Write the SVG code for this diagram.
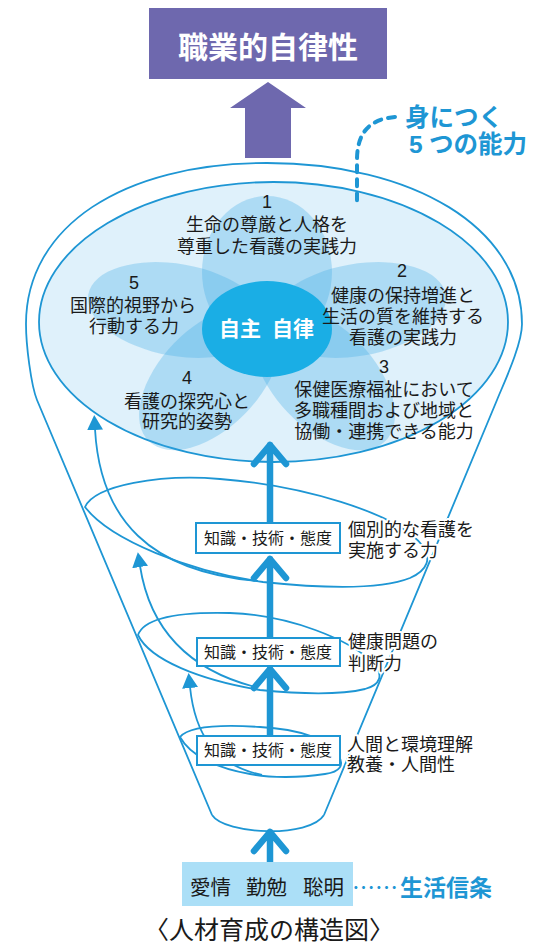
<svg xmlns="http://www.w3.org/2000/svg" width="537" height="945" viewBox="0 0 537 945">
<defs>
<style>
.ln{fill:none;stroke:#1e96d4;stroke-width:1.8}
.thk{fill:none;stroke:#1e96d4;stroke-width:6.5;stroke-linecap:round;stroke-linejoin:round}
.jp{font-family:"Liberation Sans","Noto Sans CJK JP",sans-serif;fill:#1a1a1a}
.s18{font-size:18px}
.mid{text-anchor:middle}
.halo{paint-order:stroke;stroke:#fff;stroke-width:4;stroke-linejoin:round}
.petal{fill:#3ca8e6;fill-opacity:0.3}
.box{fill:#fff;stroke:#1e96d4;stroke-width:2}
</style>
<marker id="ah" markerUnits="userSpaceOnUse" markerWidth="15" markerHeight="16" viewBox="0 0 15 16" refX="1" refY="8" orient="auto"><path d="M0,0 L15,8 L0,16 Z" fill="#1e96d4"/></marker>
</defs>
<rect width="537" height="945" fill="#fff"/>

<g id="title">
<rect x="149" y="8" width="238" height="71" fill="#6e68ae"/>
<text x="268" y="58" class="jp mid" font-size="30" font-weight="bold" style="fill:#fff">職業的自律性</text>
</g>
<g id="purple-arrow">
<polygon points="268,82 306,108 291,108 291,158 245,158 245,108 230,108" fill="#6e68ae"/>
</g>

<g id="funnel">
<path class="ln" d="M212,815 L37,400 C31,385 26,345 26,324 C26,227 122,163 267,163 C412,163 522,227 522,324 C522,345 503,385 497,400 L324,815"/>
<path class="ln" d="M212,815 C225,835 310,838 324,815"/>
</g>

<g id="abilities">
<ellipse cx="273.5" cy="322" rx="234.5" ry="140" fill="#dff1fb" stroke="#1e96d4" stroke-width="1.8"/>
<ellipse class="petal" cx="267" cy="272" rx="65" ry="76"/>
<ellipse class="petal" cx="357" cy="310" rx="90" ry="46" transform="rotate(-10 357 310)"/>
<ellipse class="petal" cx="177" cy="310" rx="90" ry="46" transform="rotate(10 177 310)"/>
<ellipse class="petal" cx="210" cy="378" rx="88" ry="50" transform="rotate(-46 210 378)"/>
<ellipse class="petal" cx="324" cy="378" rx="88" ry="50" transform="rotate(46 324 378)"/>
<ellipse cx="267" cy="329" rx="65" ry="48" fill="#1aaee5"/>
<text class="jp" font-size="21" font-weight="bold" style="fill:#fff"><tspan x="219" y="336">自主</tspan> <tspan x="272" y="336">自律</tspan></text>
</g>

<g id="ability1" class="jp s18 mid">
<text x="267" y="208">1</text>
<text x="267" y="231">生命の尊厳と人格を</text>
<text x="267" y="253">尊重した看護の実践力</text>
</g>
<g id="ability2" class="jp s18 mid">
<text x="402" y="277">2</text>
<text x="403" y="302">健康の保持増進と</text>
<text x="403" y="323">生活の質を維持する</text>
<text x="403" y="344">看護の実践力</text>
</g>
<g id="ability3" class="jp s18 mid">
<text x="384" y="373">3</text>
<text x="384" y="396">保健医療福祉において</text>
<text x="384" y="417">多職種間および地域と</text>
<text x="384" y="438">協働・連携できる能力</text>
</g>
<g id="ability4" class="jp s18 mid">
<text x="187" y="384">4</text>
<text x="187" y="408">看護の探究心と</text>
<text x="187" y="428">研究的姿勢</text>
</g>
<g id="ability5" class="jp s18 mid">
<text x="134" y="289">5</text>
<text x="133" y="312">国際的視野から</text>
<text x="134" y="333">行動する力</text>
</g>

<g id="callout">
<path d="M395,117 C372,119 357,130 357,160 L357,204" fill="none" stroke="#1e96d4" stroke-width="4" stroke-linecap="round" stroke-dasharray="7 7"/>
<text class="jp" font-size="24.5" font-weight="bold" style="fill:#1e96d4"><tspan x="405" y="126">身につく</tspan><tspan x="409" y="153">5</tspan><tspan x="429" y="153">つの能力</tspan></text>
</g>

<g id="connectors">
<path class="ln" d="M85,507 C95,485 160,474 220,479 C300,485 395,512 422,545 C432,558 428,570 410,578 C380,590 320,588 263,582 C190,572 110,540 85,507 Z"/>
<path class="ln" d="M138,635 C145,615 190,612 230,613 C290,615 350,640 372,662 C385,675 380,685 365,689 C340,695 300,694 260,690 C200,680 150,660 138,635 Z"/>
<path class="ln" d="M180,737 C190,725 230,725 260,727 C300,729 330,740 338,755 C345,765 340,772 325,774 C300,778 270,778 250,774 C215,768 190,755 180,737 Z"/>
<path class="ln" d="M258,581 C150,572 100,520 95,429" marker-end="url(#ah)"/>
<path class="ln" d="M255,687 C190,670 150,630 140,566" marker-end="url(#ah)"/>
<path class="ln" d="M262,775 C215,765 195,735 190,687" marker-end="url(#ah)"/>
<path class="thk" d="M270,523 V445 M254,464 L270,445 L286,464"/>
<path class="thk" d="M270,637 V559 M254,578 L270,559 L286,578"/>
<path class="thk" d="M270,736 V669 M254,688 L270,669 L286,688"/>
<path class="thk" d="M270,862 V832 M254,851 L270,832 L286,851"/>
</g>

<g id="level3">
<rect class="box" x="196" y="523" width="144" height="30"/>
<text x="268" y="544" class="jp mid" font-size="16">知識・技術・態度</text>
<text class="jp s18 halo"><tspan x="348" y="536">個別的な看護を</tspan><tspan x="348" y="557">実施する力</tspan></text>
</g>
<g id="level2">
<rect class="box" x="197" y="638" width="143" height="28"/>
<text x="268" y="658" class="jp mid" font-size="16">知識・技術・態度</text>
<text class="jp s18 halo"><tspan x="348" y="648">健康問題の</tspan><tspan x="348" y="670">判断力</tspan></text>
</g>
<g id="level1">
<rect class="box" x="197" y="736" width="143" height="29"/>
<text x="268" y="756" class="jp mid" font-size="16">知識・技術・態度</text>
<text class="jp s18 halo"><tspan x="347" y="751">人間と環境理解</tspan><tspan x="347" y="771">教養・人間性</tspan></text>
</g>

<g id="base">
<rect x="182" y="862" width="171" height="44" fill="#abdff7"/>
<text class="jp" font-size="20.5"><tspan x="190" y="895">愛情</tspan> <tspan x="246" y="895">勤勉</tspan> <tspan x="303" y="895">聡明</tspan></text>
<text class="jp" font-size="23" style="fill:#1e96d4"><tspan x="352" y="896" font-family="'Noto Sans CJK JP',sans-serif">……</tspan><tspan x="400" y="896" font-weight="bold">生活信条</tspan></text>
</g>

<g id="caption">
<text x="269" y="938.5" class="jp mid" font-size="25">〈人材育成の構造図〉</text>
</g>
</svg>
